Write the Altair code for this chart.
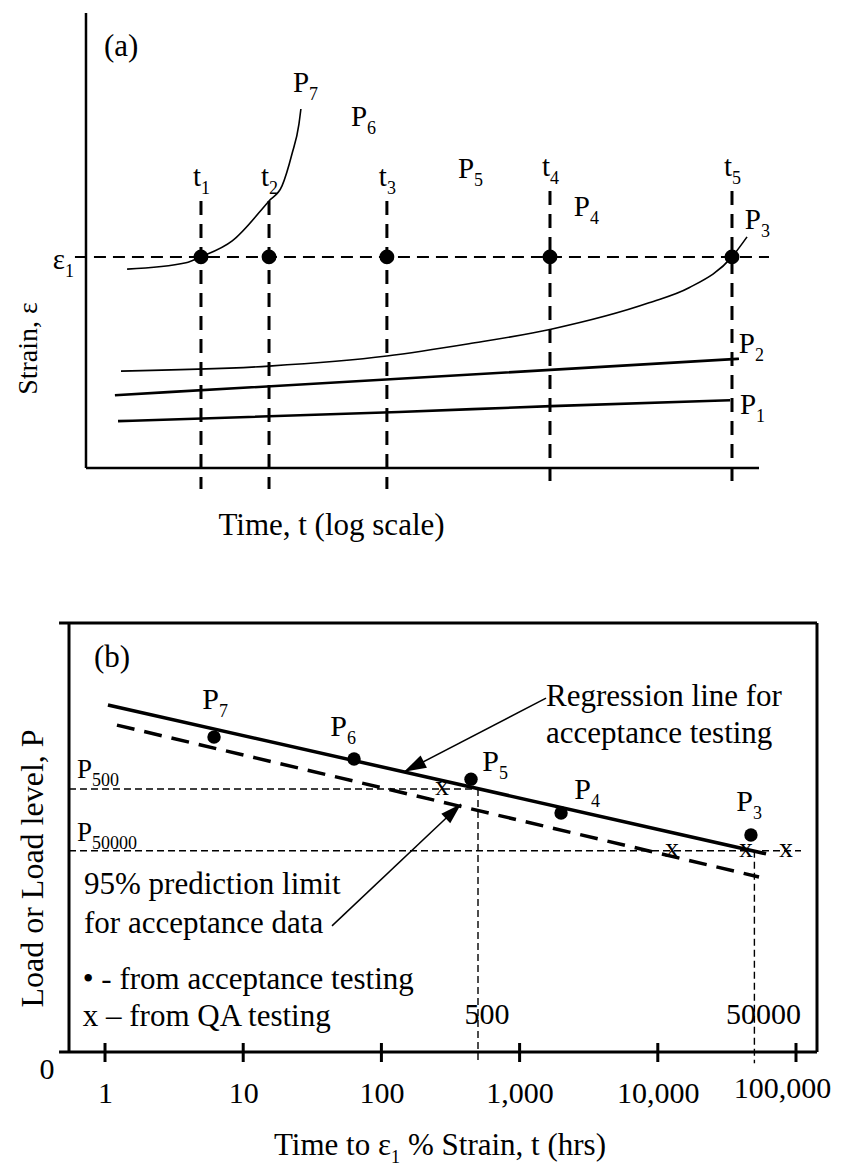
import altair as alt
import pandas as pd

FONT = "Liberation Serif"

# =============== Panel (a): strain vs time (log scale), schematic units ===============
a_time_domain = [0.7478, 269700]
a_strain_domain = [0, 100]

eps1_level = 46.4
eps1_line_time = [0.828, 118600]

t_line_time = [7.15, 22.9, 172, 2800, 63000]
t_line_top = [58.7, 58.7, 58.7, 60.9, 60.9]
t_line_bottom = -4.6

a_axis_time = [1, 100000]
a_axis_strain = [0, 100]

p7_time = [2.02, 5.53, 7.15, 12.2, 22.9, 28.6, 33.9, 38.2, 39.5]
p7_strain = [43.7, 45.1, 46.4, 49.9, 58.7, 62.0, 69.0, 75.6, 78.9]
p3_time = [1.82, 22.9, 172, 700, 2851, 15240, 30200, 63000, 81500]
p3_strain = [21.3, 22.4, 24.6, 27.3, 30.5, 36.3, 39.6, 46.4, 50.8]
p2_time = [1.64, 211, 71000]
p2_strain = [16.0, 19.6, 24.0]
p1_time = [1.73, 211, 2851, 61000]
p1_strain = [10.3, 12.3, 13.6, 14.9]

a_lab_main = ["P", "P", "P", "P", "P", "P", "P", "t", "t", "t", "t", "t", "ε"]
a_lab_sub = ["7", "6", "5", "4", "3", "2", "1", "1", "2", "3", "4", "5", "1"]
a_lab_time = [45.4, 122.5, 764, 5546, 103500, 93300, 95100, 7.15, 22.9, 172, 2800, 63000, 0.698]
a_lab_strain = [82.6, 75.2, 63.7, 55.4, 52.5, 25.3, 11.9, 62.0, 62.0, 62.0, 64.2, 64.2, 43.7]

a_tag = ["(a)"]
a_tag_time = [1.36]
a_tag_strain = [90.5]

# =============== Panel (b): load vs time to eps1 strain ===============
b_time_domain = [0.5488, 141900]
b_load_domain = [0, 100]
b_frame_left_ext = 0.465

tick_values = [1, 10, 100, 1000, 10000, 100000]
tick_lo, tick_hi = -2.33, 2.1

acc_time = [6.15, 63.4, 445, 1995, 47200]
acc_load = [73.4, 68.3, 63.6, 55.7, 50.6]
acc_lab_sub = ["7", "6", "5", "4", "3"]
acc_lab_time = [6.68, 56.4, 709, 3287, 48860]
acc_lab_load = [80.0, 73.7, 65.5, 59.0, 56.2]

qa_time = [274, 12680, 43500, 84700]
qa_load = [61.3, 46.9, 46.9, 46.9]

reg_time = [1.05, 60700]
reg_load = [80.9, 46.2]
pred_time = [1.22, 54000]
pred_load = [76.2, 40.8]

design_time = [500, 50000]
design_load = [61.3, 46.9]
design_line_end = [500, 108700]
design_drop_to = -2.6
design_lab_sub = ["500", "50000"]
design_lab_time = [0.805, 0.805]
design_lab_load = [63.9, 49.2]
design_tick_text = ["500", "50000"]
design_tick_load = [6.5, 6.5]

note_text = ["(b)", "Regression line for", "acceptance testing",
             "95% prediction limit", "for acceptance data",
             "• - from acceptance testing", "x – from QA testing"]
note_time = [0.832, 1553, 1553, 0.705, 0.705, 0.69, 0.69]
note_load = [89.7, 80.65, 72.0, 36.8, 27.7, 14.7, 6.06]

arrow_tail_time = [1553, 43.9]
arrow_tail_load = [82.5, 29.4]
arrow_tip_time = [145.7, 376.9]
arrow_tip_load = [65.3, 57.8]

xtitle_parts = ["Time to ε", "1", "% Strain, t (hrs)"]
xtitle_time = 117.3
xtitle_load = -23.9

ARROW = "M0,0 L-0.65,2.1 L0.65,2.1 Z"

# ---------------- scales / axes ----------------
sxA = alt.Scale(type="log", domain=a_time_domain, nice=False)
syA = alt.Scale(domain=a_strain_domain, nice=False, zero=False)
axA_x = alt.Axis(title="Time, t (log scale)", labels=False, ticks=False, domain=False, grid=False,
                 titleFont=FONT, titleFontSize=31, titleFontWeight="normal", titleColor="black",
                 titleX=262, titleY=66, titleAlign="center", titleBaseline="alphabetic")
axA_y = alt.Axis(title="Strain, ε", labels=False, ticks=False, domain=False, grid=False,
                 titleFont=FONT, titleFontSize=28, titleFontWeight="normal", titleColor="black",
                 titleAngle=270, titleX=-33, titleY=335, titleAlign="center",
                 titleBaseline="alphabetic")


def XA(f):
    return alt.X(f, type="quantitative", scale=sxA, axis=axA_x)


def YA(f):
    return alt.Y(f, type="quantitative", scale=syA, axis=axA_y)


sxB = alt.Scale(type="log", domain=b_time_domain, nice=False)
syB = alt.Scale(domain=b_load_domain, nice=False, zero=False)
axB_x = alt.Axis(title="", values=tick_values, format=",", ticks=False, tickSize=0, domain=False,
                 grid=False, labelFont=FONT, labelFontSize=30, labelColor="black",
                 labelPadding={"condition": {"test": "datum.value >= 100000", "value": 45}, "value": 50},
                 labelOffset={"condition": {"test": "datum.value >= 100000", "value": -14}, "value": 0},
                 labelBaseline="alphabetic", labelAlign="center",
                 labelFlush=False, labelOverlap=False)
axB_y = alt.Axis(title="Load or Load level, P", values=[0], format="d", ticks=False, tickSize=0,
                 domain=False, grid=False, labelFont=FONT, labelFontSize=30, labelColor="black",
                 labelPadding=15, labelBaseline="alphabetic", labelOffset=26, labelFlush=False,
                 titleFont=FONT, titleFontSize=32, titleFontWeight="normal", titleColor="black",
                 titleAngle=270, titleX=-27, titleY=245, titleAlign="center",
                 titleBaseline="alphabetic")


def XB(f):
    return alt.X(f, type="quantitative", scale=sxB, axis=axB_x)


def YB(f):
    return alt.Y(f, type="quantitative", scale=syB, axis=axB_y)


# ---------------- panel (a) layers ----------------
df_ay = pd.DataFrame({"t": [a_axis_time[0]], "e": [a_axis_strain[0]], "e2": [a_axis_strain[1]]})
df_ax = pd.DataFrame({"t": [a_axis_time[0]], "t2": [a_axis_time[1]], "e": [a_axis_strain[0]]})
df_eps = pd.DataFrame({"t": [eps1_line_time[0]], "t2": [eps1_line_time[1]], "e": [eps1_level]})
df_tl = pd.DataFrame({"t": t_line_time, "top": t_line_top, "bottom": [t_line_bottom] * len(t_line_time)})
df_dots_a = pd.DataFrame({"t": t_line_time, "e": [eps1_level] * len(t_line_time)})
df_thin = pd.concat([
    pd.DataFrame({"t": p7_time, "e": p7_strain, "curve": "P7"}),
    pd.DataFrame({"t": p3_time, "e": p3_strain, "curve": "P3"}),
])
df_thick = pd.concat([
    pd.DataFrame({"t": p2_time, "e": p2_strain, "curve": "P2"}),
    pd.DataFrame({"t": p1_time, "e": p1_strain, "curve": "P1"}),
])
df_lab_a = pd.DataFrame({"t": a_lab_time, "e": a_lab_strain, "main": a_lab_main, "sub": a_lab_sub})
df_tag_a = pd.DataFrame({"t": a_tag_time, "e": a_tag_strain, "txt": a_tag})

a_layers = [
    alt.Chart(df_ay).mark_rule(color="black", strokeWidth=2.5).encode(x=XA("t"), y=YA("e"), y2="e2"),
    alt.Chart(df_ax).mark_rule(color="black", strokeWidth=2.5).encode(x=XA("t"), x2="t2", y=YA("e")),
    alt.Chart(df_eps).mark_rule(color="black", strokeWidth=2, strokeDash=[12, 7]).encode(
        x=XA("t"), x2="t2", y=YA("e")),
    alt.Chart(df_tl).mark_rule(color="black", strokeWidth=3, strokeDash=[14, 9]).encode(
        x=XA("t"), y=YA("top"), y2="bottom"),
    alt.Chart(df_thin).mark_line(color="black", strokeWidth=1.6, interpolate="monotone").encode(
        x=XA("t"), y=YA("e"), detail="curve:N"),
    alt.Chart(df_thick).mark_line(color="black", strokeWidth=2.6, interpolate="monotone").encode(
        x=XA("t"), y=YA("e"), detail="curve:N"),
    alt.Chart(df_dots_a).mark_point(filled=True, color="black", size=220, opacity=1, shape="circle").encode(
        x=XA("t"), y=YA("e")),
    alt.Chart(df_lab_a).mark_text(font=FONT, fontSize=29, align="right", baseline="alphabetic",
                                  color="black").encode(x=XA("t"), y=YA("e"), text="main:N"),
    alt.Chart(df_lab_a).mark_text(font=FONT, fontSize=18, align="left", baseline="alphabetic",
                                  dy=8, color="black").encode(x=XA("t"), y=YA("e"), text="sub:N"),
    alt.Chart(df_tag_a).mark_text(font=FONT, fontSize=31, align="left", baseline="alphabetic",
                                  color="black").encode(x=XA("t"), y=YA("e"), text="txt:N"),
]
panel_a = alt.layer(*a_layers).properties(width=748, height=455)

# ---------------- panel (b) layers ----------------
df_frame_h = pd.DataFrame({"t": [b_frame_left_ext] * 2, "t2": [b_time_domain[1]] * 2,
                           "p": [b_load_domain[0], b_load_domain[1]]})
df_frame_v = pd.DataFrame({"t": b_time_domain, "p": [b_load_domain[0]] * 2, "p2": [b_load_domain[1]] * 2})
df_ticks = pd.DataFrame({"t": tick_values, "lo": [tick_lo] * len(tick_values),
                         "hi": [tick_hi] * len(tick_values)})
df_reg = pd.DataFrame({"t": reg_time, "p": reg_load})
df_pred = pd.DataFrame({"t": pred_time, "p": pred_load})
df_levels = pd.DataFrame({"t": [b_time_domain[0]] * 2, "t2": design_line_end, "p": design_load})
df_drops = pd.DataFrame({"t": design_time, "p": design_load, "p2": [design_drop_to] * 2})
df_acc = pd.DataFrame({"t": acc_time, "p": acc_load})
df_acc_lab = pd.DataFrame({"t": acc_lab_time, "p": acc_lab_load, "main": ["P"] * 5, "sub": acc_lab_sub})
df_lvl_lab = pd.DataFrame({"t": design_lab_time, "p": design_lab_load, "main": ["P"] * 2,
                           "sub": design_lab_sub})
df_qa = pd.DataFrame({"t": qa_time, "p": qa_load, "m": ["x"] * len(qa_time)})
df_notes = pd.DataFrame({"t": note_time, "p": note_load, "txt": note_text})
df_dtick = pd.DataFrame({"t": design_time, "p": design_tick_load, "txt": design_tick_text})
df_arrow_line = pd.DataFrame({"t": arrow_tail_time, "t2": arrow_tip_time,
                              "p": arrow_tail_load, "p2": arrow_tip_load})
df_tip1 = pd.DataFrame({"t": [arrow_tip_time[0]], "p": [arrow_tip_load[0]]})
df_tip2 = pd.DataFrame({"t": [arrow_tip_time[1]], "p": [arrow_tip_load[1]]})
df_xt = [pd.DataFrame({"t": [xtitle_time], "p": [xtitle_load], "txt": [s]}) for s in xtitle_parts]

b_layers = [
    alt.Chart(df_frame_h).mark_rule(color="black", strokeWidth=3).encode(x=XB("t"), x2="t2", y=YB("p")),
    alt.Chart(df_frame_v).mark_rule(color="black", strokeWidth=3).encode(x=XB("t"), y=YB("p"), y2="p2"),
    alt.Chart(df_ticks).mark_rule(color="black", strokeWidth=3).encode(x=XB("t"), y=YB("lo"), y2="hi"),
    alt.Chart(df_levels).mark_rule(color="black", strokeWidth=1.4, strokeDash=[7, 4]).encode(
        x=XB("t"), x2="t2", y=YB("p")),
    alt.Chart(df_drops).mark_rule(color="black", strokeWidth=1.4, strokeDash=[7, 4]).encode(
        x=XB("t"), y=YB("p"), y2="p2"),
    alt.Chart(df_reg).mark_line(color="black", strokeWidth=3.5).encode(x=XB("t"), y=YB("p")),
    alt.Chart(df_pred).mark_line(color="black", strokeWidth=3.5, strokeDash=[18, 10]).encode(
        x=XB("t"), y=YB("p")),
    alt.Chart(df_arrow_line).mark_rule(color="black", strokeWidth=1.5).encode(
        x=XB("t"), x2="t2", y=YB("p"), y2="p2"),
    alt.Chart(df_tip1).mark_point(shape=ARROW, filled=True, color="black", size=450, opacity=1,
                                  angle=242.5).encode(x=XB("t"), y=YB("p")),
    alt.Chart(df_tip2).mark_point(shape=ARROW, filled=True, color="black", size=400, opacity=1,
                                  angle=46.6).encode(x=XB("t"), y=YB("p")),
    alt.Chart(df_acc).mark_point(filled=True, color="black", size=180, opacity=1, shape="circle").encode(
        x=XB("t"), y=YB("p")),
    alt.Chart(df_qa).mark_text(font=FONT, fontSize=28, align="center", baseline="middle", dy=-2,
                               color="black").encode(x=XB("t"), y=YB("p"), text="m:N"),
    alt.Chart(df_acc_lab).mark_text(font=FONT, fontSize=30, align="right", baseline="alphabetic",
                                    color="black").encode(x=XB("t"), y=YB("p"), text="main:N"),
    alt.Chart(df_acc_lab).mark_text(font=FONT, fontSize=18, align="left", baseline="alphabetic",
                                    dy=8, color="black").encode(x=XB("t"), y=YB("p"), text="sub:N"),
    alt.Chart(df_lvl_lab).mark_text(font=FONT, fontSize=27, align="right", baseline="alphabetic",
                                    color="black").encode(x=XB("t"), y=YB("p"), text="main:N"),
    alt.Chart(df_lvl_lab).mark_text(font=FONT, fontSize=18, align="left", baseline="alphabetic",
                                    dy=8, color="black").encode(x=XB("t"), y=YB("p"), text="sub:N"),
    alt.Chart(df_notes).mark_text(font=FONT, fontSize=31, align="left", baseline="alphabetic",
                                  color="black").encode(x=XB("t"), y=YB("p"), text="txt:N"),
    alt.Chart(df_dtick).mark_text(font=FONT, fontSize=30, align="center", baseline="alphabetic",
                                  dx=9, color="black").encode(x=XB("t"), y=YB("p"), text="txt:N"),
    alt.Chart(df_xt[0]).mark_text(font=FONT, fontSize=31, align="right", baseline="alphabetic",
                                  color="black").encode(x=XB("t"), y=YB("p"), text="txt:N"),
    alt.Chart(df_xt[1]).mark_text(font=FONT, fontSize=18, align="left", baseline="alphabetic",
                                  dy=8, color="black").encode(x=XB("t"), y=YB("p"), text="txt:N"),
    alt.Chart(df_xt[2]).mark_text(font=FONT, fontSize=31, align="left", baseline="alphabetic",
                                  dx=17, color="black").encode(x=XB("t"), y=YB("p"), text="txt:N"),
]
panel_b = alt.layer(*b_layers).properties(width=748, height=429)

chart = (
    alt.vconcat(panel_a, panel_b, spacing=155, bounds="flush")
    .properties(padding={"left": 6, "top": 3, "right": 0, "bottom": 0})
    .configure(font=FONT)
    .configure_view(stroke="transparent", strokeWidth=0)
)

chart.save("out.html", embed_options={"renderer": "svg", "actions": False})
